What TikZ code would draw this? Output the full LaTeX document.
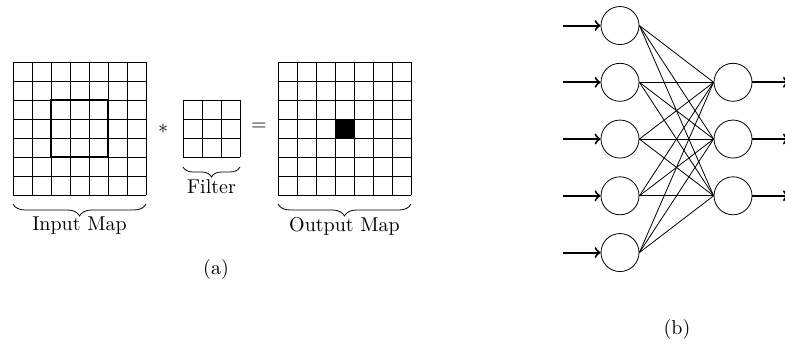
\documentclass[tikz,border=0pt]{standalone}
\usepackage{amsmath,amssymb}
\usetikzlibrary{decorations.pathreplacing}

\tikzset{
  gridline/.style={line width=0.45pt},
  window/.style={line width=1.3pt},
  brace/.style={decorate, decoration={brace, mirror, amplitude=6}},
  neuron/.style={draw, circle, minimum size=19pt, inner sep=0pt},
  feed/.style={line width=1pt, ->}
}

\begin{document}
\begin{tikzpicture}[x=0.5pt, y=-0.5pt]
    \useasboundingbox (0, 0) rectangle (785, 347);
    \foreach \i in {0,...,7} {
      \draw[gridline] (13 + 19*\i, 62) -- (13 + 19*\i, 195);
      \draw[gridline] (13, 62 + 19*\i) -- (146, 62 + 19*\i);
      \draw[gridline] (278 + 19*\i, 62) -- (278 + 19*\i, 195);
      \draw[gridline] (278, 62 + 19*\i) -- (411, 62 + 19*\i);
    }
    \foreach \i in {0,...,3} {
      \draw[gridline] (183 + 19*\i, 100) -- (183 + 19*\i, 157);
      \draw[gridline] (183, 100 + 19*\i) -- (240, 100 + 19*\i);
    }
    \draw[window] (51, 100) rectangle (108, 157);
    \fill (335, 119) rectangle (354, 138);
    \node (star) at (163, 129) {$*$};
    \node (equals) at (259, 127) {$=$};
    \draw[brace] (13, 204) -- (146, 204);
    \draw[brace, decoration={amplitude=5}] (183, 167) -- (240, 167);
    \draw[brace] (278, 204) -- (411, 204);
    \node (inlabel) at (79.5, 226) {Input Map};
    \node (filterlabel) at (211.5, 187) {Filter};
    \node (outlabel) at (344.5, 226) {Output Map};
    \node (capa) at (216, 269) {(a)};

    \foreach \i in {1,...,5} {
      \node[neuron] (in\i) at (620, -31.2 + 56.75*\i) {};
      \coordinate (src\i) at (563, -31.2 + 56.75*\i);
      \draw[feed] (src\i) -- (in\i);
    }
    \foreach \j in {1,...,3} {
      \node[neuron] (out\j) at (733, 25.55 + 56.75*\j) {};
      \coordinate (dst\j) at (789, 25.55 + 56.75*\j);
      \draw[feed] (out\j) -- (dst\j);
      \foreach \i in {1,...,5}
        \draw (in\i.east) -- (out\j.west);
    }
    \node (capb) at (677, 329) {(b)};
  \end{tikzpicture}
\end{document}
